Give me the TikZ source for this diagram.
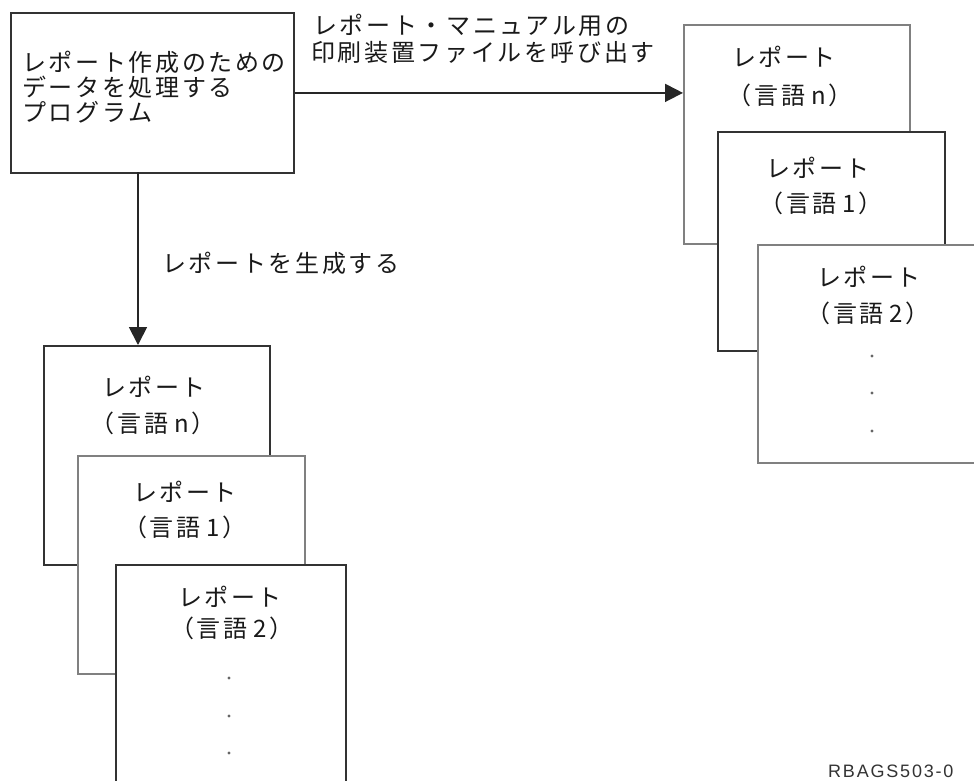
\documentclass[tikz,border=0pt]{standalone}
\usepackage{fontspec}
\newfontfamily\jp[LetterSpace=11]{Noto Sans CJK JP}
\newfontfamily\lbl[LetterSpace=10]{Liberation Sans}
\usetikzlibrary{arrows.meta}
\tikzset{
  x=1pt, y=-1pt,
  sheet/.style={draw=black!80, line width=1.8pt, fill=white, rectangle, inner sep=0pt, anchor=north west},
  lightsheet/.style={sheet, draw=black!50},
  txt/.style={font=\jp\fontsize{24}{24}\selectfont, inner sep=0pt, text=black!90},
  dot/.style={circle, fill=black!60, inner sep=0pt, minimum size=3.2pt},
  flow/.style={draw=black!85, line width=1.8pt, -{Triangle[length=18pt, width=18pt]}},
}
\newcommand{\lang}[1]{（言語\hspace{0.25em}#1）}
\begin{document}
\begin{tikzpicture}
\useasboundingbox (0,0) rectangle (974,780);
% program box
\node[sheet, minimum width=283pt, minimum height=160pt] (prog) at (10,12) {};
\node[txt, anchor=west] (p1) at (22,62) {レポート作成のための};
\node[txt, anchor=west] (p2) at (22,87) {データを処理する};
\node[txt, anchor=west] (p3) at (22,112) {プログラム};
% right stack
\node[lightsheet, minimum width=226pt, minimum height=219pt] (R1) at (683,24) {};
\node[txt] (r1a) at (784,57) {レポート};
\node[txt] (r1b) at (790,95) {\lang{n}};
\node[sheet, minimum width=227pt, minimum height=219pt] (R2) at (717,131) {};
\node[txt] (r2a) at (818,168) {レポート};
\node[txt] (r2b) at (821,203) {\lang{1}};
\node[lightsheet, minimum width=226pt, minimum height=218pt] (R3) at (757,244) {};
\node[txt] (r3a) at (869,277) {レポート};
\node[txt] (r3b) at (868,313) {\lang{2}};
\node[dot] (rd1) at (872,356) {};
\node[dot] (rd2) at (872,393) {};
\node[dot] (rd3) at (872,431) {};
% left stack
\node[sheet, minimum width=226pt, minimum height=219pt] (L1) at (43,345) {};
\node[txt] (l1a) at (154,387) {レポート};
\node[txt] (l1b) at (153,423) {\lang{n}};
\node[lightsheet, minimum width=227pt, minimum height=218pt] (L2) at (77,455) {};
\node[txt] (l2a) at (185,492) {レポート};
\node[txt] (l2b) at (185,527) {\lang{1}};
\node[sheet, minimum width=230pt, minimum height=220pt] (L3) at (115,564) {};
\node[txt] (l3a) at (230,597) {レポート};
\node[txt] (l3b) at (232,628) {\lang{2}};
\node[dot] (ld1) at (229,678) {};
\node[dot] (ld2) at (229,716) {};
\node[dot] (ld3) at (229,753) {};
% connectors
\draw[flow] (prog.east) -- (R1.west |- prog.east);
\node[txt, anchor=west] (h1) at (313,25) {レポート・マニュアル用の};
\node[txt, anchor=west] (h2) at (311,52) {印刷装置ファイルを呼び出す};
\coordinate (dtop) at (138,172);
\draw[flow] (dtop) -- (dtop |- L1.north);
\node[txt, anchor=west] (v1) at (162,263) {レポートを生成する};
% figure id
\node[font=\lbl\fontsize{18}{18}\selectfont, text=black!80, inner sep=0pt, anchor=north west] (fid) at (828,765) {RBAGS503-0};
\end{tikzpicture}
\end{document}
